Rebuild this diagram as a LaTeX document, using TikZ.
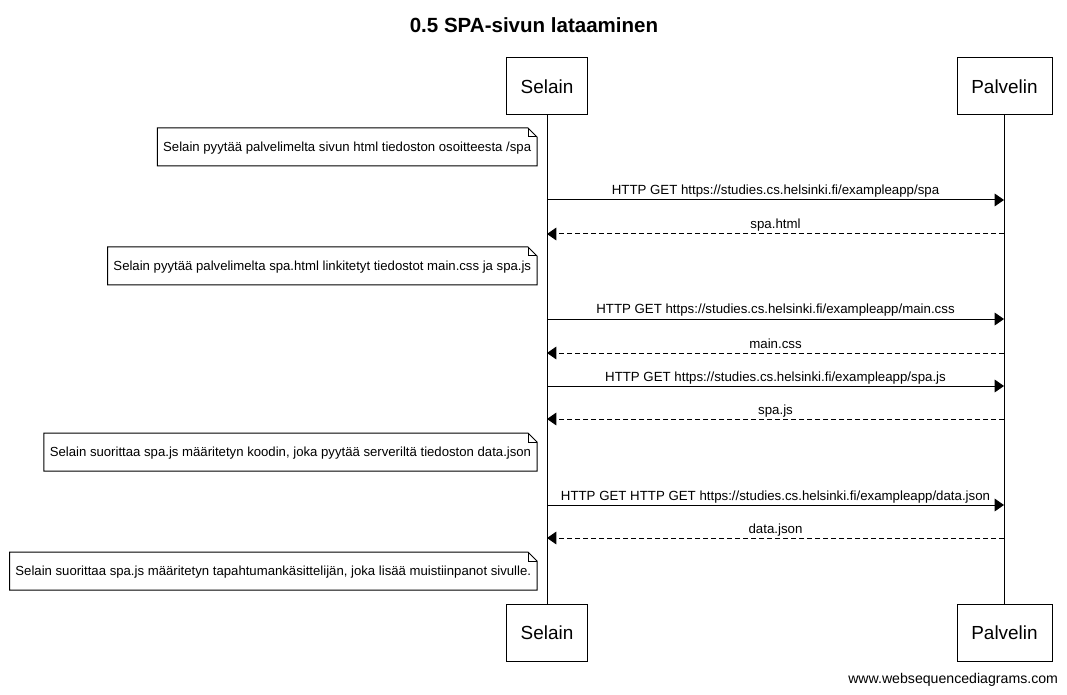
\documentclass[tikz,border=0pt]{standalone}
\usepackage{fontspec}
\setmainfont{Liberation Sans}
\usetikzlibrary{arrows.meta}
\begin{document}
\begin{tikzpicture}[x=0.75pt,y=-0.75pt,
  every node/.style={inner sep=0pt,outer sep=0pt},
  part/.style={draw,line width=0.75pt,minimum width=#1,minimum height=42.75pt,font=\fontsize{14.2}{16}\selectfont},
  msgtxt/.style={font=\fontsize{9.95}{11}\selectfont,anchor=base},
  notetxt/.style={font=\fontsize{9.87}{11}\selectfont,anchor=east,minimum height=28.5pt,inner xsep=4.4pt,text depth=0pt},
  life/.style={line width=0.75pt},
  req/.style={line width=0.75pt,-{Triangle[length=7pt,width=9.5pt]}},
  resp/.style={line width=0.75pt,dash pattern=on 3.75pt off 2.25pt,-{Triangle[length=7pt,width=9.5pt]}},
  notebox/.style={line width=0.75pt}
]
\useasboundingbox (0,0) rectangle (1067,695);
\node[font=\bfseries\fontsize{15.4}{18}\selectfont] (title) at (534,25) {0.5 SPA-sivun lataaminen};
\node[part=60.75pt] (s1) at (547,86.5) {Selain};
\node[part=71.25pt] (p1) at (1004.5,86.5) {Palvelin};
\node[part=60.75pt] (s2) at (547,632.5) {Selain};
\node[part=71.25pt] (p2) at (1004.5,632.5) {Palvelin};
\draw[life] (s1.south) -- (s2.north);
\draw[life] (p1.south) -- (p2.north);

\newcommand{\drawnote}[1]{%
  \draw[notebox] (#1.south west) -- (#1.north west) -- ([xshift=-6.75pt]#1.north east) -- ([yshift=-6.75pt]#1.north east) -- (#1.south east) -- cycle;
  \draw[notebox] ([xshift=-6.75pt]#1.north east) -- ([xshift=-6.75pt,yshift=-6.75pt]#1.north east) -- ([yshift=-6.75pt]#1.north east);
}

% coordinates on lifelines
\foreach \n/\y in {a/200,b/234,c/319,d/353,e/386,f/419,g/505,h/538}{
  \coordinate (s\n) at (547,\y);
  \coordinate (p\n) at (1004,\y);
}

\node[notetxt] (n1) at (537,147) {Selain pyytää palvelimelta sivun html tiedoston osoitteesta /spa};
\drawnote{n1}
\draw[req] (sa) -- (pa) node[msgtxt,pos=0.5,yshift=3.75pt] (l1) {HTTP GET https://studies.cs.helsinki.fi/exampleapp/spa};
\draw[resp] (pb) -- (sb) node[msgtxt,pos=0.5,yshift=3.75pt] (l2) {spa.html};

\node[notetxt] (n2) at (537,266) {Selain pyytää palvelimelta spa.html linkitetyt tiedostot main.css ja spa.js};
\drawnote{n2}
\draw[req] (sc) -- (pc) node[msgtxt,pos=0.5,yshift=3.75pt] (l3) {HTTP GET https://studies.cs.helsinki.fi/exampleapp/main.css};
\draw[resp] (pd) -- (sd) node[msgtxt,pos=0.5,yshift=3.75pt] (l4) {main.css};
\draw[req] (se) -- (pe) node[msgtxt,pos=0.5,yshift=3.75pt] (l5) {HTTP GET https://studies.cs.helsinki.fi/exampleapp/spa.js};
\draw[resp] (pf) -- (sf) node[msgtxt,pos=0.5,yshift=3.75pt] (l6) {spa.js};

\node[notetxt] (n3) at (537,452) {Selain suorittaa spa.js määritetyn koodin, joka pyytää serveriltä tiedoston data.json};
\drawnote{n3}
\draw[req] (sg) -- (pg) node[msgtxt,pos=0.5,yshift=3.75pt] (l7) {HTTP GET HTTP GET https://studies.cs.helsinki.fi/exampleapp/data.json};
\draw[resp] (ph) -- (sh) node[msgtxt,pos=0.5,yshift=3.75pt] (l8) {data.json};

\node[notetxt] (n4) at (537,571) {Selain suorittaa spa.js määritetyn tapahtumankäsittelijän, joka lisää muistiinpanot sivulle.};
\drawnote{n4}

\node[font=\fontsize{10.6}{12}\selectfont,anchor=east] (foot) at (1058,680) {www.websequencediagrams.com};
\end{tikzpicture}
\end{document}
